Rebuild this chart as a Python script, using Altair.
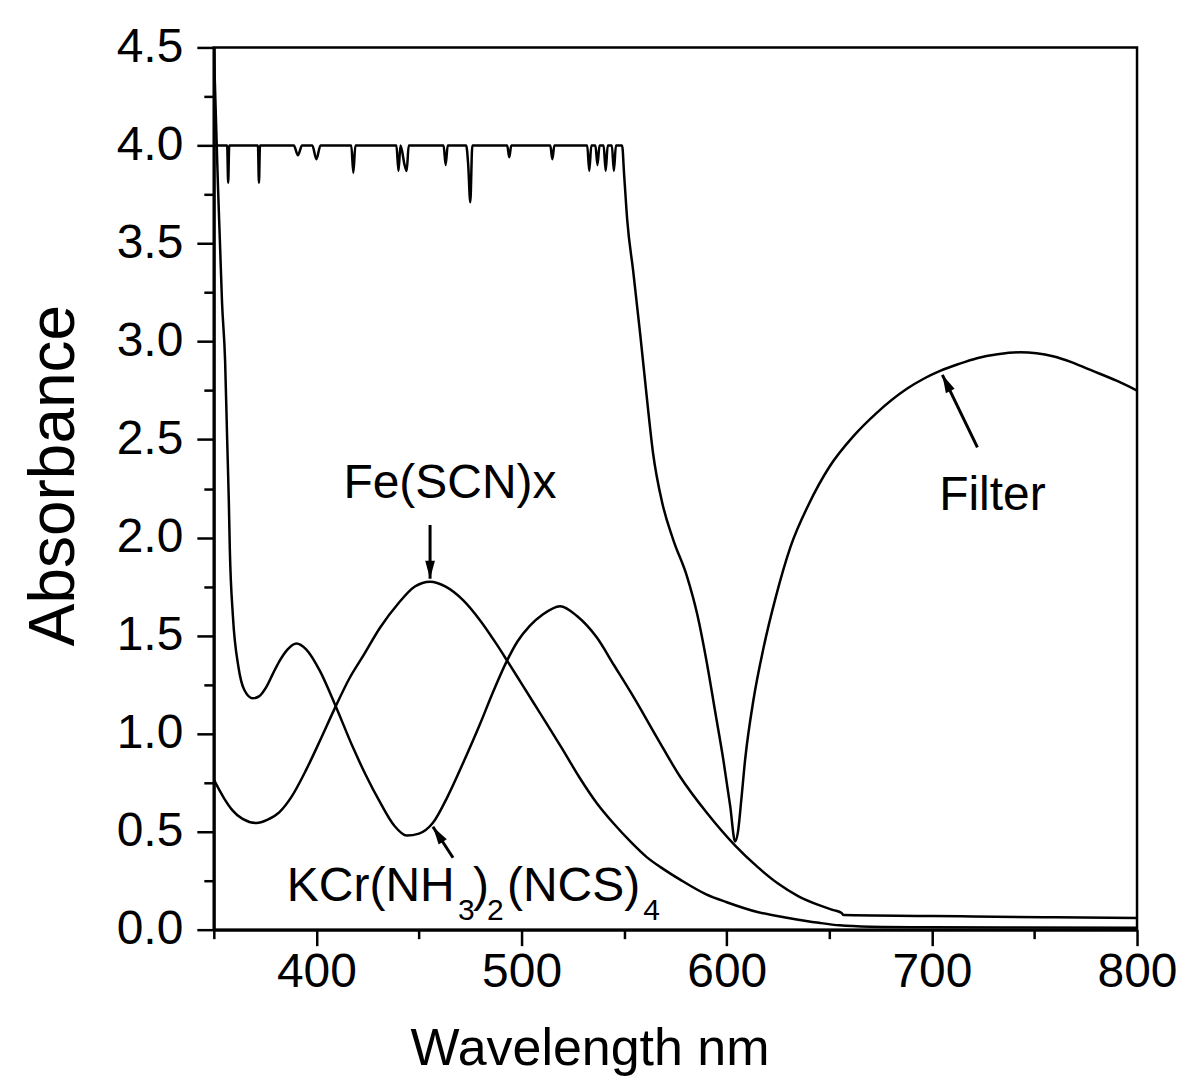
import altair as alt
import pandas as pd

# ---------------- data ----------------
filter_wl = [350, 352, 356.5, 357, 357.5, 362, 371.5, 372, 372.5, 380, 389, 391, 393, 398, 400, 402,
             410, 417, 418, 419, 430, 439, 440, 441, 443, 444, 445, 455, 462, 463, 464, 473, 474, 475,
             476, 485, 493, 494, 495, 505, 514, 515, 516, 525, 532, 533, 534, 536, 537, 538, 540, 541,
             542, 544, 545, 546, 548, 549, 550, 551.5, 554.4, 557.8, 561.2, 564.1, 568.5, 573.9, 580.7,
             585.6, 590.5, 594.4, 598.3, 601.7, 604.1, 605.5, 607, 609, 613, 618, 624, 631, 640, 650, 662,
             673, 688, 696, 704, 713, 722, 732, 743, 751, 759, 768, 776, 790, 800]
filter_abs = [4.0, 4.0, 4.0, 3.81, 4.0, 4.0, 4.0, 3.81, 4.0, 4.0, 4.0, 3.95, 4.0, 4.0, 3.93, 4.0,
              4.0, 4.0, 3.86, 4.0, 4.0, 4.0, 3.87, 4.0, 3.9, 3.87, 4.0, 4.0, 4.0, 3.9, 4.0, 4.0, 3.9, 3.71,
              4.0, 4.0, 4.0, 3.94, 4.0, 4.0, 4.0, 3.93, 4.0, 4.0, 4.0, 3.87, 4.0, 4.0, 3.9, 4.0, 4.0, 3.87,
              4.0, 4.0, 3.87, 4.0, 4.0, 4.0, 3.85, 3.62, 3.36, 3.04, 2.70, 2.43, 2.18, 1.99, 1.80,
              1.61, 1.35, 1.11, 0.87, 0.63, 0.45, 0.50, 0.65, 0.87, 1.17, 1.44, 1.70, 1.95, 2.17, 2.36, 2.52,
              2.635, 2.76, 2.81, 2.85, 2.885, 2.915, 2.935, 2.945, 2.94, 2.925, 2.895, 2.86, 2.80, 2.75]

kcr_wl = [350, 351, 352, 353, 354, 355.5, 356.5, 357.3, 357.8, 359.3, 362, 365, 369, 372, 375.7, 379, 382,
          386, 390.3, 395, 401.7, 409, 417.8, 424, 431, 438, 444, 450, 456.8, 464, 471.5, 479.8, 486,
          492.8, 498, 504, 510, 518.8, 527, 536.7, 545, 555, 566, 577.3, 590, 604, 615, 625, 635, 645,
          652, 656, 657, 700, 720, 760, 800]
kcr_abs = [4.5, 4.15, 3.8, 3.5, 3.2, 2.9, 2.5, 2.19, 1.94, 1.6, 1.34, 1.22, 1.18, 1.19, 1.24, 1.31, 1.37,
           1.43, 1.46, 1.43, 1.32, 1.15, 0.93, 0.79, 0.65, 0.53, 0.48, 0.49, 0.545, 0.68, 0.85, 1.05, 1.21,
           1.37, 1.47, 1.55, 1.605, 1.65, 1.60, 1.49, 1.35, 1.18, 0.98, 0.78, 0.60, 0.43, 0.32, 0.235, 0.17,
           0.125, 0.10, 0.085, 0.075, 0.07, 0.067, 0.063, 0.06]

fe_wl = [350, 355, 359, 364, 370.8, 376, 382, 388, 395, 402, 409, 416, 423, 431, 440, 448, 455.4, 463,
         471.6, 480, 487.9, 492.8, 500, 506, 512.3, 520, 528, 536.7, 545, 553, 561, 569, 577.3, 590, 600,
         615, 630, 645, 655, 670, 700, 800]
fe_abs = [0.765, 0.67, 0.61, 0.565, 0.544, 0.56, 0.60, 0.68, 0.815, 0.97, 1.13, 1.28, 1.40, 1.54, 1.665,
          1.75, 1.775, 1.75, 1.68, 1.575, 1.455, 1.375, 1.255, 1.155, 1.05, 0.92, 0.78, 0.645, 0.54, 0.45,
          0.37, 0.31, 0.255, 0.18, 0.14, 0.09, 0.06, 0.035, 0.022, 0.015, 0.012, 0.01]

# annotation labels (text, wavelength, absorbance, align)
label_text = ["Fe(SCN)x", "Filter", "KCr(NH", ")", "(NCS)"]
label_wl = [465.1, 729.5, 385.6, 476.3, 492.9]
label_abs = [2.20, 2.14, 0.144, 0.144, 0.144]
label_align = ["center", "center", "left", "left", "left"]

sub_text = ["3", "2", "4"]
sub_wl = [469.0, 483.2, 559.3]
sub_abs = [0.05, 0.05, 0.05]

# arrows: tail -> tip
arrow_wl = [455.4, 722.2, 466.6]
arrow_abs = [2.064, 2.46, 0.367]
arrow_tip_wl = [455.4, 705.1, 456.8]
arrow_tip_abs = [1.79, 2.83, 0.525]
arrow_angle = [180, 334, 327]

x_ticks = [350, 400, 450, 500, 550, 600, 650, 700, 750, 800]
y_ticks = [i * 0.25 for i in range(19)]

# ---------------- tables ----------------
curves = pd.concat([
    pd.DataFrame({"wl": filter_wl, "a": filter_abs, "series": "Filter"}),
    pd.DataFrame({"wl": kcr_wl, "a": kcr_abs, "series": "KCr"}),
    pd.DataFrame({"wl": fe_wl, "a": fe_abs, "series": "Fe"}),
])
labels = pd.DataFrame({"wl": label_wl, "a": label_abs, "text": label_text, "align": label_align})
subs = pd.DataFrame({"wl": sub_wl, "a": sub_abs, "text": sub_text})
arrows = pd.DataFrame({"wl": arrow_wl, "a": arrow_abs, "wl2": arrow_tip_wl, "a2": arrow_tip_abs})
heads = pd.DataFrame({"wl": arrow_tip_wl, "a": arrow_tip_abs, "ang": arrow_angle})

FONT = "Liberation Sans"

x_enc = alt.X(
    "wl:Q",
    scale=alt.Scale(domain=[350, 800], nice=False, zero=False),
    axis=alt.Axis(
        values=x_ticks, format="d",
        labelExpr="datum.value % 100 === 0 ? datum.label : ''",
        tickSize={"condition": {"test": "datum.value % 100 !== 0", "value": 9}, "value": 16},
        tickWidth=2.5, tickColor="black", domainColor="black", domainWidth=3,
        labelFont=FONT, labelFontSize=48, labelColor="black", labelPadding=3, labelFlush=False,
        labelOverlap=False,
        title="Wavelength nm", titleFont=FONT, titleFontSize=52, titleFontWeight="normal",
        titleColor="black", titleX=376, titleY=135, titleAlign="center", titleBaseline="alphabetic",
        grid=False,
    ),
)
y_enc = alt.Y(
    "a:Q",
    scale=alt.Scale(domain=[0, 4.5], nice=False),
    axis=alt.Axis(
        values=y_ticks, format=".1f",
        labelExpr="datum.value % 0.5 === 0 ? datum.label : ''",
        tickSize={"condition": {"test": "datum.value % 0.5 !== 0", "value": 10}, "value": 17},
        tickWidth=2.5, tickColor="black", domainColor="black", domainWidth=3,
        labelFont=FONT, labelFontSize=48, labelColor="black", labelPadding=14, labelFlush=False,
        labelOverlap=False,
        title="Absorbance", titleFont=FONT, titleFontSize=64, titleFontWeight="normal",
        titleColor="black", titleX=-159, titleY=428, titleAlign="center", titleBaseline="middle",
        titleAngle=270, grid=False,
    ),
)

lines = alt.Chart(curves).mark_line(
    color="black", strokeWidth=2.5, interpolate="monotone", clip=True
).encode(x=x_enc, y=y_enc, detail="series:N")

txt_center = alt.Chart(labels[labels["align"] == "center"]).mark_text(
    font=FONT, fontSize=48, color="black", baseline="alphabetic", align="center"
).encode(x=x_enc, y=y_enc, text="text:N")
txt_left = alt.Chart(labels[labels["align"] == "left"]).mark_text(
    font=FONT, fontSize=48, color="black", baseline="alphabetic", align="left"
).encode(x=x_enc, y=y_enc, text="text:N")

sub = alt.Chart(subs).mark_text(
    font=FONT, fontSize=30, color="black", baseline="alphabetic", align="left"
).encode(x=x_enc, y=y_enc, text="text:N")

shafts = alt.Chart(arrows).mark_rule(color="black", strokeWidth=3).encode(
    x=x_enc, y=y_enc, x2="wl2:Q", y2="a2:Q"
)

heads_layer = alt.Chart(heads).mark_point(
    shape="M0,0L0.27,1L-0.27,1Z", filled=True, color="black", opacity=1, size=1296
).encode(x=x_enc, y=y_enc, angle=alt.Angle("ang:Q", scale=None))

chart = alt.layer(lines, txt_center, txt_left, sub, shafts, heads_layer).properties(
    width=924, height=883,
    padding={"left": 206, "top": 39, "right": 40, "bottom": 150},
    autosize=alt.AutoSizeParams(type="none"),
    background="white",
).configure_view(stroke="black", strokeWidth=2.5)

chart.save("out.html", embed_options={"renderer": "svg", "actions": False})
